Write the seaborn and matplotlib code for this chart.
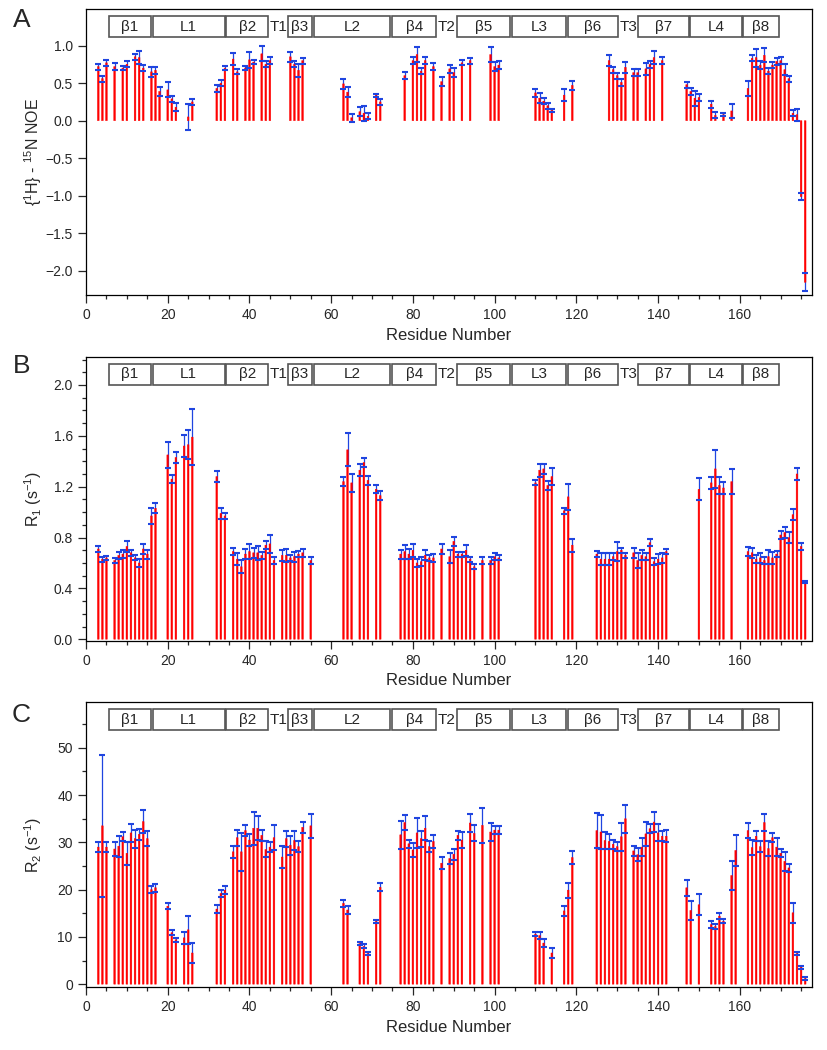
import numpy as np
import pandas as pd
import matplotlib
matplotlib.use("Agg")
import matplotlib.pyplot as plt
import matplotlib.transforms as mtransforms
from matplotlib.patches import Rectangle
from matplotlib.ticker import MultipleLocator
import seaborn as sns

# ---------------- data ----------------
# panel A: {1H}-15N NOE
res_a = [3, 4, 5, 7, 9, 10, 12, 13, 14, 16, 17, 18, 20, 21, 22, 25, 26, 32, 33, 34,
         36, 37, 39, 40, 41, 43, 44, 45, 50, 51, 52, 53, 63, 64, 65, 67, 68, 69, 71, 72,
         78, 80, 81, 82, 83, 85, 87, 89, 90, 92, 94, 99, 100, 101, 110, 111, 112, 113, 114, 117,
         119, 128, 129, 130, 131, 132, 134, 135, 137, 138, 139, 141, 147, 148, 149, 150, 153, 154, 156, 158,
         162, 163, 164, 165, 166, 167, 168, 169, 170, 171, 172, 173, 174, 175, 176]
noe = [0.72, 0.56, 0.77, 0.72, 0.70, 0.75, 0.85, 0.84, 0.70, 0.65, 0.67, 0.39, 0.41, 0.29, 0.18, 0.05, 0.25, 0.43, 0.50, 0.70,
       0.82, 0.65, 0.70, 0.81, 0.78, 0.89, 0.75, 0.80, 0.85, 0.75, 0.67, 0.80, 0.49, 0.38, 0.04, 0.12, 0.10, 0.06, 0.34, 0.25,
       0.60, 0.80, 0.88, 0.66, 0.80, 0.72, 0.52, 0.69, 0.64, 0.77, 0.80, 0.88, 0.72, 0.74, 0.37, 0.30, 0.26, 0.20, 0.14, 0.34,
       0.47, 0.80, 0.68, 0.60, 0.51, 0.71, 0.64, 0.64, 0.69, 0.75, 0.84, 0.80, 0.48, 0.39, 0.30, 0.31, 0.22, 0.07, 0.08, 0.13,
       0.43, 0.83, 0.84, 0.74, 0.87, 0.66, 0.74, 0.79, 0.80, 0.68, 0.56, 0.10, 0.08, -1.01, -2.15]
noe_err = [0.04, 0.04, 0.04, 0.045, 0.03, 0.04, 0.04, 0.085, 0.035, 0.07, 0.05, 0.06, 0.10, 0.04, 0.05, 0.17, 0.04, 0.05, 0.04, 0.03,
           0.08, 0.035, 0.03, 0.11, 0.03, 0.10, 0.04, 0.045, 0.07, 0.04, 0.09, 0.04, 0.07, 0.07, 0.055, 0.06, 0.10, 0.04, 0.02, 0.035,
           0.05, 0.05, 0.10, 0.035, 0.05, 0.05, 0.055, 0.05, 0.065, 0.035, 0.04, 0.10, 0.065, 0.055, 0.05, 0.07, 0.04, 0.04, 0.02, 0.08,
           0.06, 0.075, 0.04, 0.04, 0.05, 0.075, 0.045, 0.045, 0.08, 0.05, 0.085, 0.05, 0.04, 0.05, 0.10, 0.05, 0.045, 0.04, 0.02, 0.09,
           0.10, 0.04, 0.12, 0.05, 0.095, 0.04, 0.04, 0.05, 0.05, 0.075, 0.04, 0.04, 0.08, 0.05, 0.12]

# panel B: R1
res_b = [3, 4, 5, 7, 8, 9, 10, 11, 12, 13, 14, 15, 16, 17, 20, 21, 22, 24, 25, 26,
         32, 33, 34, 36, 37, 38, 39, 40, 41, 42, 43, 44, 45, 46, 48, 49, 50, 51, 52, 53,
         55, 63, 64, 65, 67, 68, 69, 71, 72, 77, 78, 79, 80, 81, 82, 83, 84, 85, 87, 89,
         90, 91, 92, 93, 94, 95, 97, 99, 100, 101, 110, 111, 112, 113, 114, 117, 118, 119, 125, 126,
         127, 128, 129, 130, 131, 132, 134, 135, 136, 137, 138, 139, 140, 141, 142, 150, 153, 154, 155, 156,
         158, 162, 163, 164, 165, 166, 167, 168, 169, 170, 171, 172, 173, 174, 175, 176]
r1 = [0.71, 0.63, 0.64, 0.62, 0.66, 0.67, 0.73, 0.68, 0.64, 0.60, 0.71, 0.67, 0.97, 1.03, 1.45, 1.26, 1.43, 1.52, 1.53, 1.59,
      1.28, 0.99, 0.97, 0.69, 0.63, 0.57, 0.67, 0.69, 0.68, 0.68, 0.66, 0.74, 0.75, 0.62, 0.66, 0.66, 0.64, 0.65, 0.67, 0.68,
      0.62, 1.24, 1.49, 1.23, 1.33, 1.39, 1.25, 1.18, 1.13, 0.67, 0.69, 0.67, 0.70, 0.60, 0.61, 0.66, 0.64, 0.64, 0.71, 0.65,
      0.77, 0.67, 0.67, 0.70, 0.63, 0.57, 0.62, 0.62, 0.65, 0.64, 1.23, 1.33, 1.34, 1.21, 1.28, 1.01, 1.12, 0.74, 0.67, 0.63,
      0.63, 0.63, 0.65, 0.69, 0.70, 0.66, 0.68, 0.62, 0.66, 0.65, 0.76, 0.61, 0.63, 0.64, 0.69, 1.18, 1.23, 1.34, 1.21, 1.19,
      1.24, 0.69, 0.68, 0.63, 0.64, 0.62, 0.65, 0.64, 0.67, 0.82, 0.84, 0.80, 0.98, 1.30, 0.73, 0.45]
r1_err = [0.02, 0.02, 0.015, 0.02, 0.03, 0.03, 0.04, 0.025, 0.02, 0.03, 0.04, 0.035, 0.06, 0.04, 0.10, 0.03, 0.04, 0.085, 0.115, 0.22,
          0.04, 0.045, 0.025, 0.025, 0.045, 0.05, 0.04, 0.06, 0.04, 0.055, 0.03, 0.03, 0.07, 0.03, 0.045, 0.05, 0.025, 0.04, 0.025, 0.03,
          0.03, 0.035, 0.13, 0.07, 0.045, 0.035, 0.035, 0.03, 0.035, 0.035, 0.055, 0.04, 0.05, 0.03, 0.035, 0.04, 0.025, 0.03, 0.04, 0.05,
          0.035, 0.02, 0.02, 0.045, 0.02, 0.02, 0.03, 0.03, 0.025, 0.02, 0.02, 0.05, 0.04, 0.035, 0.07, 0.025, 0.10, 0.05, 0.025, 0.05,
          0.05, 0.05, 0.03, 0.075, 0.02, 0.02, 0.04, 0.06, 0.04, 0.03, 0.025, 0.03, 0.04, 0.04, 0.02, 0.085, 0.05, 0.15, 0.07, 0.05,
          0.10, 0.035, 0.04, 0.03, 0.04, 0.025, 0.055, 0.05, 0.025, 0.03, 0.045, 0.04, 0.045, 0.045, 0.03, 0.01]

# panel C: R2
res_c = [3, 4, 5, 7, 8, 9, 10, 11, 12, 13, 14, 15, 16, 17, 20, 21, 22, 24, 25, 26,
         32, 33, 34, 36, 37, 38, 39, 40, 41, 42, 43, 44, 45, 46, 48, 49, 50, 51, 52, 53,
         55, 63, 64, 67, 68, 69, 71, 72, 77, 78, 79, 80, 81, 82, 83, 84, 85, 87, 89, 90,
         91, 92, 94, 95, 97, 99, 100, 101, 110, 111, 112, 114, 117, 118, 119, 125, 126, 127, 128, 129,
         130, 131, 132, 134, 135, 136, 137, 138, 139, 140, 141, 142, 147, 148, 150, 153, 154, 155, 156, 158,
         159, 162, 163, 164, 165, 166, 167, 168, 169, 170, 171, 172, 173, 174, 175, 176]
r2 = [29.0, 33.5, 29.0, 28.6, 29.2, 31.2, 27.7, 32.0, 30.8, 31.7, 34.4, 30.8, 20.0, 20.4, 16.5, 10.9, 9.4, 9.8, 11.5, 6.6,
      15.9, 19.2, 19.9, 28.0, 31.0, 28.0, 32.5, 30.5, 33.0, 33.0, 31.5, 28.5, 29.0, 31.0, 26.9, 30.8, 29.4, 30.4, 29.1, 33.2,
      33.5, 17.1, 15.7, 8.6, 8.0, 6.5, 13.3, 20.5, 31.6, 34.2, 29.7, 28.4, 32.0, 30.8, 33.0, 29.1, 30.2, 25.6, 26.6, 27.5,
      31.5, 30.5, 34.1, 31.9, 33.6, 32.2, 32.6, 32.6, 10.6, 10.3, 8.7, 6.6, 15.5, 19.9, 26.8, 32.5, 32.2, 30.4, 30.2, 29.6,
      29.1, 31.2, 35.0, 28.2, 27.4, 29.0, 31.8, 32.9, 34.3, 32.0, 31.3, 31.3, 20.4, 15.6, 16.8, 12.6, 12.2, 14.4, 13.3, 23.0,
      28.3, 32.5, 28.9, 31.3, 29.1, 34.2, 28.7, 31.0, 29.0, 27.7, 26.0, 24.6, 15.1, 6.5, 3.6, 1.2]
r2_err = [1.1, 15.0, 1.1, 1.5, 2.2, 1.0, 2.4, 1.9, 1.9, 1.1, 2.5, 1.5, 0.7, 0.8, 0.7, 0.6, 0.4, 1.3, 3.0, 2.2,
          0.8, 0.7, 0.9, 1.3, 1.7, 4.0, 1.1, 1.2, 3.5, 2.6, 1.2, 1.7, 1.0, 2.6, 2.4, 1.7, 2.0, 2.1, 1.1, 1.2,
          2.5, 0.8, 0.8, 0.35, 0.45, 0.35, 0.35, 0.8, 3.0, 1.6, 0.9, 1.4, 3.2, 1.7, 2.5, 1.2, 1.4, 1.3, 1.2, 1.2,
          1.0, 1.6, 1.9, 1.7, 3.7, 2.0, 0.8, 0.8, 0.4, 0.8, 0.8, 1.0, 1.0, 1.6, 1.3, 3.7, 3.5, 1.8, 1.6, 1.0,
          1.0, 3.0, 3.0, 1.1, 1.4, 1.9, 2.6, 1.0, 2.2, 1.8, 1.0, 1.3, 1.7, 2.0, 2.2, 0.8, 0.5, 0.6, 0.4, 3.0,
          3.3, 1.5, 1.6, 1.0, 1.1, 1.9, 1.5, 1.0, 1.9, 0.8, 2.0, 0.9, 2.1, 0.35, 0.3, 0.25]

# secondary structure bar on top of every panel
ss_labels = ["β1", "L1", "β2", "β3", "L2", "β4", "β5", "L3", "β6", "β7", "L4", "β8"]
ss_start = [5.6, 16.3, 34.3, 49.5, 55.8, 75.0, 90.8, 104.3, 117.9, 135.1, 147.9, 160.8]
ss_end = [15.9, 33.9, 44.6, 55.3, 74.5, 85.7, 103.8, 117.5, 130.2, 147.5, 160.6, 169.6]
turn_labels = ["T1", "T2", "T3"]
turn_pos = [47.1, 88.3, 132.7]

# ---------------- style ----------------
sns.set_style("ticks")
plt.rcParams["font.family"] = ["Liberation Sans", "DejaVu Sans"]
plt.rcParams["mathtext.fontset"] = "custom"
plt.rcParams["mathtext.rm"] = "Liberation Sans"
plt.rcParams["mathtext.it"] = "Liberation Sans:italic"
plt.rcParams["axes.linewidth"] = 0.9

BAR_RED = "#ff0000"
ERR_BLUE = "#1f45e0"


def draw_panel(ax, res, vals, errs, ylim, ymajor, yminor, ylabel, yfmt):
    df = pd.DataFrame({"res": res, "val": vals, "err": errs})
    sns.barplot(data=df, x="res", y="val", native_scale=True, orient="x",
                width=0.42, color=BAR_RED, saturation=1, errorbar=None,
                edgecolor=BAR_RED, linewidth=0.3, ax=ax, zorder=2)
    # no pixel snapping, so every thin bar gets drawn
    for p in ax.patches:
        p.set_snap(False)
    eb = ax.errorbar(df["res"], df["val"], yerr=df["err"], fmt="none",
                     ecolor=ERR_BLUE, elinewidth=0.9, capsize=2.3, capthick=1.5)
    for c in eb[2]:
        c.set_zorder(1)
    for c in eb[1]:
        c.set_zorder(3)

    ax.set_xlim(0, 177.7)
    ax.set_ylim(*ylim)
    ax.xaxis.set_major_locator(MultipleLocator(20))
    ax.xaxis.set_minor_locator(MultipleLocator(5))
    ax.yaxis.set_major_locator(MultipleLocator(ymajor))
    if yminor:
        ax.yaxis.set_minor_locator(MultipleLocator(yminor))
    ax.yaxis.set_major_formatter(yfmt)
    ax.tick_params(which="major", length=6, width=0.9, labelsize=10, direction="out")
    ax.tick_params(which="minor", length=3, width=0.9, direction="out")
    ax.set_xlabel("Residue Number", fontsize=12, labelpad=4)
    ax.set_ylabel(ylabel, fontsize=11.5)
    ax.yaxis.set_label_coords(-0.058, 0.5)
    for s in ax.spines.values():
        s.set_color("black")

    # secondary structure boxes
    trans = mtransforms.blended_transform_factory(ax.transData, ax.transAxes)
    for lab, x0, x1 in zip(ss_labels, ss_start, ss_end):
        ax.add_patch(Rectangle((x0, 0.902), x1 - x0, 0.074, transform=trans,
                               facecolor="white", edgecolor="#555555", lw=1.2,
                               zorder=5, clip_on=False))
        ax.text((x0 + x1) / 2, 0.939, lab, transform=trans, ha="center",
                va="center", fontsize=11, zorder=6)
    for lab, xp in zip(turn_labels, turn_pos):
        ax.text(xp, 0.939, lab, transform=trans, ha="center", va="center",
                fontsize=11, zorder=6)


fig = plt.figure(figsize=(8.27, 10.5), dpi=100)
ax_a = fig.add_axes([0.104, 0.719, 0.878, 0.272])
ax_b = fig.add_axes([0.104, 0.390, 0.878, 0.270])
ax_c = fig.add_axes([0.104, 0.060, 0.878, 0.271])

draw_panel(ax_a, res_a, noe, noe_err, (-2.32, 1.48), 0.5, None,
           r"{$^{1}$H} - $^{15}$N NOE", "{x:.1f}")
draw_panel(ax_b, res_b, r1, r1_err, (-0.01, 2.22), 0.4, 0.1,
           r"R$_{1}$ (s$^{-1}$)", "{x:.1f}")
draw_panel(ax_c, res_c, r2, r2_err, (-0.6, 59.6), 10, 5,
           r"R$_{2}$ (s$^{-1}$)", "{x:.0f}")

for lab, yy in zip(["A", "B", "C"], [0.981, 0.651, 0.319]):
    fig.text(0.026, yy, lab, fontsize=19, ha="center", va="center")

fig.savefig("out.png", dpi=100)
